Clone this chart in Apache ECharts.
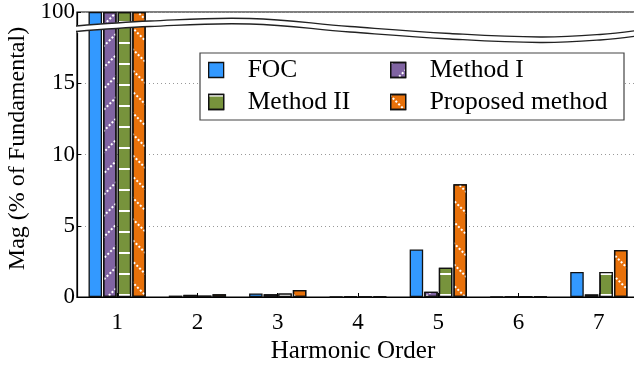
<!DOCTYPE html>
<html>
<head>
<meta charset="utf-8">
<script src="https://cdn.jsdelivr.net/npm/echarts@6.0.0/dist/echarts.min.js"></script>
<style>
  html, body { margin: 0; padding: 0; background: #fff; }
  #chart { width: 634px; height: 366px; }
</style>
</head>
<body>
<div id="chart"></div>
<script>
// harmonic spectrum, % of fundamental
const harmonics = ['1', '2', '3', '4', '5', '6', '7'];
const focData = [100, 0.1, 0.25, 0.03, 3.33, 0.03, 1.75];
const method1Data = [100, 0.15, 0.2, 0.05, 0.37, 0.02, 0.18];
const method2Data = [100, 0.1, 0.25, 0.02, 2.05, 0.04, 1.75];
const proposedData = [100, 0.2, 0.5, 0.05, 7.92, 0.05, 3.3];
const yTickValues = [0, 5, 10, 15, 100];

const font = 'Liberation Serif';

// white pattern fills
const dots = (rot) => ({
  symbol: 'rect', color: '#fff', symbolSize: 1,
  dashArrayX: [2, 2], dashArrayY: [2, 13], rotation: rot
});
const stripes = {
  symbol: 'rect', color: '#fff', symbolSize: 1,
  dashArrayX: [8, 0], dashArrayY: [2, 19], rotation: 0
};

function bar(name, data, color, decal) {
  return {
    name: name,
    type: 'bar',
    data: data,
    barWidth: 13.5,
    barGap: '8%',
    itemStyle: { color: color, borderColor: '#111', borderWidth: 1.3, decal: decal }
  };
}

function legendCol(names, left) {
  return {
    data: names,
    orient: 'vertical', left: left, top: 57, padding: 0,
    icon: 'rect', itemWidth: 15, itemHeight: 15, itemGap: 6,
    itemStyle: { borderColor: '#111', borderWidth: 1.3 },
    textStyle: { fontFamily: font, fontSize: 25.5, color: '#000', padding: [0, 0, 0, 19] },
    z: 20
  };
}

// axis-break wave (decoration only)
const waveTop = [[76, 26], [150, 21], [250, 18.5], [350, 26.5], [450, 33.5], [540, 37], [600, 34.5], [645, 29.5]];
const shift = (pts, d) => pts.map(p => [p[0], p[1] + d]);

const chart = echarts.init(document.getElementById('chart'));
chart.setOption({
  animation: false,
  backgroundColor: '#fff',
  grid: {
    left: 77, right: -5, top: 12, bottom: 69,
    show: true, borderColor: '#000', borderWidth: 1.2,
    outerBoundsMode: 'none'
  },
  legend: [
    legendCol(['FOC', 'Method II'], 208),
    legendCol(['Method I', 'Proposed method'], 390)
  ],
  xAxis: {
    type: 'category',
    data: harmonics,
    axisLine: { lineStyle: { color: '#000', width: 1.2 } },
    axisTick: { show: true, inside: true, length: 4, alignWithLabel: true, lineStyle: { color: '#000' } },
    axisLabel: { fontFamily: font, fontSize: 23, color: '#000', margin: 14 },
    name: 'Harmonic Order',
    nameLocation: 'middle',
    nameGap: 41,
    nameTextStyle: { fontFamily: font, fontSize: 25, color: '#000', padding: [0, 10, 0, 0] }
  },
  yAxis: {
    type: 'value',
    min: 0,
    max: 100,
    interval: 5,
    breaks: [{ start: 18.5, end: 99, gap: 0.5 }],
    breakArea: { show: false },
    breakLabelLayout: { moveOverlap: false },
    axisLine: { show: true, lineStyle: { color: '#000', width: 1.2 } },
    axisTick: { show: true, inside: true, length: 4, customValues: yTickValues, lineStyle: { color: '#000' } },
    axisLabel: {
      fontFamily: font, fontSize: 23, color: '#000', margin: 2,
      hideOverlap: false, customValues: yTickValues
    },
    splitLine: { show: true, lineStyle: { color: '#999', type: [1, 3], width: 1 } },
    name: 'Mag (% of Fundamental)',
    nameLocation: 'middle',
    nameGap: 39,
    nameTextStyle: { fontFamily: font, fontSize: 24, color: '#000', padding: [0, 0, 0, 12] }
  },
  series: [
    bar('FOC', focData, '#3399FF', null),
    bar('Method I', method1Data, '#8064A2', dots(-Math.PI / 4)),
    bar('Method II', method2Data, '#77933C', stripes),
    bar('Proposed method', proposedData, '#E8710A', dots(Math.PI / 4))
  ],
  graphic: [
    {
      type: 'rect', z: 15,
      shape: { x: 200, y: 53, width: 424, height: 67 },
      style: { fill: '#fff', stroke: '#444', lineWidth: 1.2 }
    },
    {
      type: 'polyline', z: 30,
      shape: { points: shift(waveTop, 2.75), smooth: 0.4 },
      style: { fill: null, stroke: '#fff', lineWidth: 6 }
    },
    {
      type: 'polyline', z: 31,
      shape: { points: waveTop, smooth: 0.4 },
      style: { fill: null, stroke: '#222', lineWidth: 1.3 }
    },
    {
      type: 'polyline', z: 31,
      shape: { points: shift(waveTop, 5.5), smooth: 0.4 },
      style: { fill: null, stroke: '#222', lineWidth: 1.3 }
    }
  ]
});
</script>
</body>
</html>
